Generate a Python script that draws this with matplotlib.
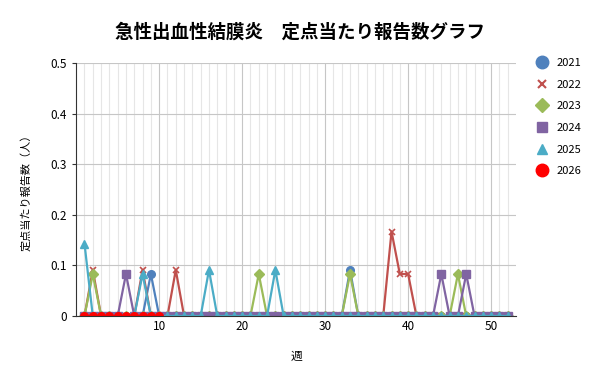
import matplotlib
matplotlib.use('Agg')
import matplotlib.pyplot as plt
from matplotlib.lines import Line2D

plt.rcParams['font.family'] = ['Noto Sans CJK JP', 'DejaVu Sans']

weeks = list(range(1, 53))

y2021 = [0, 0, 0, 0, 0, 0, 0, 0, 0.083, 0,
         0, 0, 0, 0, 0, 0, 0, 0, 0, 0,
         0, 0, 0, 0, 0, 0, 0, 0, 0, 0,
         0, 0, 0.091, 0, 0, 0, 0, 0, 0, 0,
         0, 0, 0, 0, 0, 0, 0, 0, 0, 0,
         0, 0]
y2022 = [0, 0.091, 0, 0, 0, 0, 0, 0.091, 0, 0,
         0, 0.091, 0, 0, 0, 0, 0, 0, 0, 0,
         0, 0, 0, 0, 0, 0, 0, 0, 0, 0,
         0, 0, 0, 0, 0, 0, 0, 0.167, 0.083, 0.083,
         0, 0, 0, 0, 0, 0, 0, 0, 0, 0,
         0, 0]
y2023 = [0, 0.083, 0, 0, 0, 0, 0, 0, 0, 0,
         0, 0, 0, 0, 0, 0, 0, 0, 0, 0,
         0, 0.083, 0, 0, 0, 0, 0, 0, 0, 0,
         0, 0, 0.083, 0, 0, 0, 0, 0, 0, 0,
         0, 0, 0, 0, 0, 0.083, 0, 0, 0, 0,
         0, 0]
y2024 = [0, 0, 0, 0, 0, 0.083, 0, 0, 0, 0,
         0, 0, 0, 0, 0, 0, 0, 0, 0, 0,
         0, 0, 0, 0, 0, 0, 0, 0, 0, 0,
         0, 0, 0, 0, 0, 0, 0, 0, 0, 0,
         0, 0, 0, 0.083, 0, 0, 0.083, 0, 0, 0,
         0, 0]
y2025 = [0.143, 0, 0, 0, 0, 0, 0, 0.083, 0, 0,
         0, 0, 0, 0, 0, 0.091, 0, 0, 0, 0,
         0, 0, 0, 0.091, 0, 0, 0, 0, 0, 0,
         0, 0, 0, 0, 0, 0, 0, 0, 0, 0,
         0, 0, 0, 0, 0, 0, 0, 0, 0, 0,
         0, 0]
y2026 = [0, 0, 0, 0, 0, 0, 0, 0, 0, 0]

series = [
    ('2021', y2021, '#4F81BD', 'o'),
    ('2022', y2022, '#C0504D', 'x'),
    ('2023', y2023, '#9BBB59', 'D'),
    ('2024', y2024, '#8064A2', 's'),
    ('2025', y2025, '#4BACC6', '^'),
    ('2026', y2026, '#FF0000', 'o'),
]

fig = plt.figure(figsize=(6, 3.84), dpi=100)
ax = fig.add_axes([0.127, 0.177, 0.733, 0.659])

handles = []
for name, vals, col, mk in series:
    ms = 5.5 if mk != 'D' else 4.8
    if mk == 'x':
        ax.plot(weeks[:len(vals)], vals, color=col, lw=1.6, marker=mk,
                ms=5, mew=1.2)
    else:
        ax.plot(weeks[:len(vals)], vals, color=col, lw=1.6, marker=mk,
                ms=ms, mec=col, mfc=col)
    lms = {'o': 9, 'x': 5.5, 'D': 7, 's': 6.5, '^': 7}[mk]
    handles.append(Line2D([], [], ls='none', marker=mk, color=col,
                          ms=lms, mew=1.5 if mk == 'x' else 1))

ax.set_xlim(0, 53)
ax.set_ylim(0, 0.5)
ax.set_xticks([10, 20, 30, 40, 50])
ax.set_xticks(range(1, 53), minor=True)
ax.set_yticks([0, 0.1, 0.2, 0.3, 0.4, 0.5])
ax.set_yticklabels(['0', '0.1', '0.2', '0.3', '0.4', '0.5'])
ax.grid(True, which='minor', axis='x', color='#e6e6e6', lw=0.8)
ax.grid(True, which='major', axis='x', color='#c6c6c6', lw=0.8)
ax.grid(True, which='major', axis='y', color='#c6c6c6', lw=0.8)
ax.set_axisbelow(True)
for s in ['top', 'right']:
    ax.spines[s].set_visible(False)
ax.spines['left'].set_color('#333333')
ax.spines['bottom'].set_color('#333333')
ax.tick_params(axis='x', which='both', length=0, labelsize=8.5, pad=3)
ax.tick_params(axis='y', length=3, labelsize=8.5, color='#333333')

ax.set_xlabel('週', fontsize=8.5, labelpad=12)
ax.set_ylabel('定点当たり報告数（人）', fontsize=8, labelpad=14)
fig.suptitle('急性出血性結膜炎　定点当たり報告数グラフ', fontsize=13.3,
             fontweight='bold', x=0.5, y=0.94)

fig.legend(handles=handles, labels=[s[0] for s in series],
           loc='upper left', bbox_to_anchor=(0.868, 0.875), frameon=False,
           fontsize=8, labelspacing=1.05, handletextpad=0.3)

fig.savefig('out.png', dpi=100)
